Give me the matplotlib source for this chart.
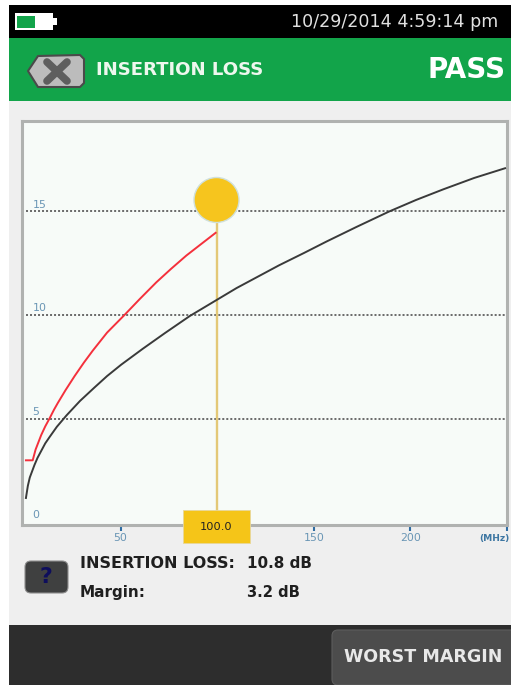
import matplotlib
matplotlib.use("Agg")
import matplotlib.pyplot as plt
from matplotlib.patches import Rectangle, FancyBboxPatch, Polygon, Circle

W, H = 511, 685
black_mhz = [1, 2, 3, 4, 5.4, 7, 9, 11, 13.2, 17, 22, 29, 36.5, 43, 50.3, 61.5, 73, 85.8, 99.6, 110, 122, 132, 145, 156.6, 172, 189, 203, 217, 233, 249]
black_db = [1.16, 1.75, 2.15, 2.4, 2.75, 3.1, 3.45, 3.8, 4.1, 4.6, 5.15, 5.85, 6.5, 7.05, 7.6, 8.37, 9.13, 9.95, 10.72, 11.3, 11.9, 12.4, 13.0, 13.55, 14.25, 15.0, 15.56, 16.07, 16.62, 17.09]
red_mhz = [1, 4.5, 6, 8.9, 11, 13.2, 15.5, 17.5, 21.5, 26.2, 31, 35.6, 43, 52, 60, 68.5, 76, 84, 92, 99.2]
red_db = [2.98, 2.98, 3.5, 4.2, 4.62, 5.0, 5.42, 5.75, 6.37, 7.05, 7.7, 8.28, 9.15, 10.0, 10.78, 11.58, 12.22, 12.87, 13.45, 13.97]
x_ticks = [50, 100, 150, 200, 250]
x_tick_labels = ["50", "", "150", "200", ""]
x_unit = "(MHz)"
y_ticks = [5, 10, 15]
y_labels = ["0", "5", "10", "15"]
cursor_mhz = 100
cursor_label = "100.0"
title = "INSERTION LOSS"
status = "PASS"
timestamp = "10/29/2014 4:59:14 pm"
readouts = [("INSERTION LOSS:", "10.8 dB"), ("Margin:", "3.2 dB")]
button = "WORST MARGIN"

plt.rcParams["font.family"] = ["DejaVu Sans"]
fig = plt.figure(figsize=(W / 100, H / 100), dpi=100, facecolor="white")

ui = fig.add_axes([0, 0, 1, 1])
ui.set_xlim(0, W)
ui.set_ylim(H, 0)
ui.axis("off")
ui.add_patch(Rectangle((9, 5), 502, 680, fc="#efefef", ec="none"))
ui.add_patch(Rectangle((9, 5), 502, 33, fc="black", ec="none"))
ui.add_patch(Rectangle((9, 38), 502, 63, fc="#12a44a", ec="none"))
ui.add_patch(Rectangle((9, 625), 502, 60, fc="#2d2d2d", ec="none"))

ui.add_patch(Rectangle((15, 13), 38, 17, fc="white", ec="none"))
ui.add_patch(Rectangle((53, 18), 4, 7, fc="white", ec="none"))
ui.add_patch(Rectangle((17, 16), 18, 12, fc="#12a44a", ec="none"))
ui.text(291, 22, timestamp, ha="left", va="center", color="#e0e0e0", fontsize=12.6)

ui.add_patch(Polygon([(28, 71), (38, 56), (80, 55), (84, 59), (84, 83), (80, 87), (38, 87)], closed=True,
                     fc="#bcbcbc", ec="#4a4a4a", lw=1.5, joinstyle="round"))
ui.plot([47, 67], [62, 81], color="#5e5e5e", lw=5.5, solid_capstyle="round")
ui.plot([47, 67], [81, 62], color="#5e5e5e", lw=5.5, solid_capstyle="round")
ui.text(96, 70, title, ha="left", va="center", color="#eef7ee", fontsize=13.05, fontweight="bold")
ui.text(505, 70, status, ha="right", va="center", color="white", fontsize=20, fontweight="bold")

ax = fig.add_axes([22 / W, 1 - 525 / H, (507 - 22) / W, (525 - 121) / H])
ax.set_xlim((22 - 24) / 1.933, (507 - 24) / 1.933)
ax.set_ylim((522 - 525) / 20.7, (522 - 121) / 20.7)
ax.set_facecolor("#f7fbf8")
for s in ax.spines.values():
    s.set_color("#b0b2b0")
    s.set_linewidth(2.2)
for v in y_ticks:
    ax.axhline(v, color="#6a6a6a", lw=1.4, ls=(0, (1.03, 1.03)), zorder=1)
ax.plot(black_mhz, black_db, color="#3a3a3a", lw=1.4, zorder=3)
ax.plot(red_mhz, red_db, color="#f4303c", lw=1.4, zorder=3)
ax.vlines(cursor_mhz, 0, 15.5, color="#e3c877", lw=1.7, zorder=2)
ax.set_xticks(x_ticks)
ax.set_xticklabels(x_tick_labels, fontsize=7.9, color="#6a96b5")
ax.tick_params(axis="x", direction="out", length=4, width=1.5, color="#2f6da3", pad=2)
ax.set_yticks([])
ax.annotate(x_unit, (x_ticks[-1], 0), xycoords=("data", "axes fraction"), xytext=(2, -9.5),
            textcoords="offset points", fontsize=6.6, fontweight="bold", color="#3d76a2",
            ha="right", va="center", annotation_clip=False)
for label, v in zip(y_labels, [0, 5, 10, 15]):
    ax.annotate(label, (0, v), xycoords=("axes fraction", "data"), xytext=(7.5, 5),
                textcoords="offset points", fontsize=7.9, color="#6a96b5", ha="left", va="center")

ui.set_zorder(0)
ax.set_zorder(1)
top = fig.add_axes([0, 0, 1, 1], zorder=2)
top.set_xlim(0, W)
top.set_ylim(H, 0)
top.axis("off")
top.patch.set_alpha(0)
top.add_patch(Circle((216.5, 200), 22.5, fc="#f6c51e", ec="#cfe0dc", lw=1))
top.add_patch(Rectangle((183, 510), 67, 33, fc="#f5c518", ec="#e8d79a", lw=0.6))
top.text(216.5, 526.5, cursor_label, ha="center", va="center", fontsize=8.2, color="#222222")

top.add_patch(FancyBboxPatch((25, 561), 43, 32, boxstyle="round,pad=0,rounding_size=6", fc="#3f4040", ec="#8f8f8f", lw=0.8))
top.text(46, 577, "?", ha="center", va="center", fontsize=16, fontweight="bold", color="#0e0e5c")
top.text(80, 563.5, readouts[0][0], ha="left", va="center", fontsize=11.5, fontweight="bold", color="#1f1f1f")
top.text(247, 563.5, readouts[0][1], ha="left", va="center", fontsize=10.9, fontweight="bold", color="#1f1f1f")
top.text(80, 592.5, readouts[1][0], ha="left", va="center", fontsize=11, fontweight="bold", color="#1f1f1f")
top.text(247, 592.5, readouts[1][1], ha="left", va="center", fontsize=10.6, fontweight="bold", color="#1f1f1f")

top.add_patch(FancyBboxPatch((332, 630), 190, 55, boxstyle="round,pad=0,rounding_size=6", fc="#4c4c4c", ec="#5d5d5d", lw=0.8))
top.text(344, 656.5, button, ha="left", va="center", fontsize=12.6, fontweight="bold", color="#e8e8e8")

fig.savefig("out.png", dpi=100)
